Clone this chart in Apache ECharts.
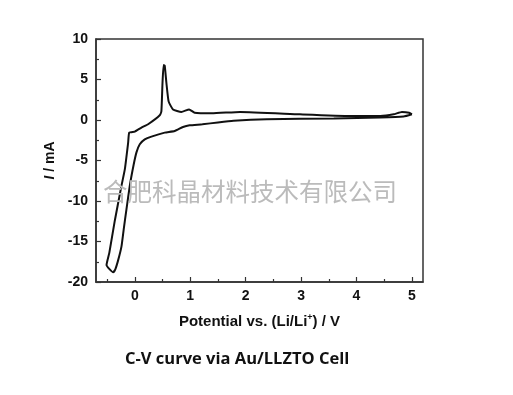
<!DOCTYPE html>
<html>
<head>
<meta charset="utf-8">
<script src="https://cdn.jsdelivr.net/npm/echarts@6/dist/echarts.min.js"></script>
<style>
html,body{margin:0;padding:0;background:#fff;}
#chart{width:513px;height:395px;}
</style>
</head>
<body>
<div id="chart"></div>
<script>
// Potential (V) along the closed CV loop
var potential = [5.00, 4.85, 4.43, 3.59, 2.38, 1.78, 1.50, 1.22, 0.99, 0.87, 0.72, 0.54, 0.30, 0.18, 0.09, 0.03, -0.02, -0.09, -0.15, -0.20, -0.24, -0.30, -0.35, -0.39, -0.51, -0.46, -0.36, -0.24, -0.18, -0.12, -0.10, 0.00, 0.12, 0.24, 0.45, 0.48, 0.50, 0.52, 0.54, 0.57, 0.61, 0.69, 0.84, 0.98, 1.08, 1.39, 1.90, 2.98, 3.89, 4.43, 4.67, 4.82, 4.95, 5.00];
// Current (mA)
var current = [0.70, 0.42, 0.30, 0.20, 0.09, -0.10, -0.30, -0.53, -0.65, -0.86, -1.36, -1.56, -2.05, -2.40, -3.00, -4.00, -5.50, -8.10, -11.0, -13.5, -15.6, -17.3, -18.4, -18.8, -17.9, -16.4, -12.4, -8.1, -6.1, -2.8, -1.55, -1.43, -0.94, -0.53, 0.58, 1.10, 4.60, 6.80, 6.70, 4.60, 2.30, 1.30, 1.00, 1.30, 0.90, 0.83, 1.00, 0.70, 0.50, 0.50, 0.70, 1.00, 0.90, 0.70];
var xTicks = [0, 1, 2, 3, 4, 5];
var xMinorTicks = [-0.5, 0.5, 1.5, 2.5, 3.5, 4.5];
var yTicks = [-20, -15, -10, -5, 0, 5, 10];

var data = potential.map(function (v, i) { return [v, current[i]]; });

var chart = echarts.init(document.getElementById('chart'));
var tickFont = {fontFamily: 'Liberation Sans', fontWeight: 'bold', fontSize: 14, color: '#111'};
chart.setOption({
  animation: false,
  grid: {left: 96, top: 39, right: 90, bottom: 113, show: true, borderColor: '#333', borderWidth: 1.5, backgroundColor: 'transparent'},
  xAxis: [{
    type: 'value', min: -0.7, max: 5.2,
    axisLine: {onZero: false, lineStyle: {color: '#333', width: 1.5}},
    axisTick: {inside: true, length: 5, customValues: xTicks, lineStyle: {color: '#333', width: 1.2}},
    axisLabel: Object.assign({customValues: xTicks, margin: 7}, tickFont),
    splitLine: {show: false},
    name: '{a|Potential vs. (Li/Li}{sup|+}{a|) / V}',
    nameLocation: 'middle', nameGap: 31,
    nameTextStyle: {rich: {
      a: {fontFamily: 'Liberation Sans', fontWeight: 'bold', fontSize: 15, color: '#111', lineHeight: 18},
      sup: {fontFamily: 'Liberation Sans', fontWeight: 'bold', fontSize: 9, color: '#111', verticalAlign: 'top', lineHeight: 18, padding: [0, 0, 6, 0]}
    }}
  }, {
    type: 'value', min: -0.7, max: 5.2, position: 'bottom',
    axisLine: {show: false, onZero: false},
    axisTick: {inside: true, length: 3, customValues: xMinorTicks, lineStyle: {color: '#333', width: 1.2}},
    axisLabel: {show: false},
    splitLine: {show: false}
  }],
  yAxis: {
    type: 'value', min: -20, max: 10, interval: 5,
    axisLine: {show: true, onZero: false, lineStyle: {color: '#333', width: 1.5}},
    axisTick: {show: true, inside: true, length: 5, lineStyle: {color: '#333', width: 1.2}},
    minorTick: {show: true, splitNumber: 2, length: 3, lineStyle: {color: '#333', width: 1.2}},
    axisLabel: Object.assign({margin: 8}, tickFont),
    splitLine: {show: false},
    name: '{i|I}{a| / mA}',
    nameLocation: 'middle', nameGap: 36, nameRotate: 90,
    nameTextStyle: {rich: {
      i: {fontFamily: 'Liberation Sans', fontWeight: 'bold', fontStyle: 'italic', fontSize: 14, color: '#111'},
      a: {fontFamily: 'Liberation Sans', fontWeight: 'bold', fontSize: 14, color: '#111'}
    }}
  },
  series: [{
    type: 'line', data: data, xAxisIndex: 0, showSymbol: false, smooth: 0.15,
    lineStyle: {color: '#111', width: 2}, z: 3
  }],
  graphic: [{
    type: 'text', left: 103, top: 179, z: 10,
    style: {text: '合肥科晶材料技术有限公司', font: '24.5px "Noto Sans CJK SC"', fill: '#bbbbbb'}
  }, {
    type: 'text', left: 125, top: 351, z: 10,
    style: {text: 'C-V curve via Au/LLZTO Cell', font: 'bold 16.5px "Open Sans"', fill: '#111'}
  }]
});
</script>
</body>
</html>
